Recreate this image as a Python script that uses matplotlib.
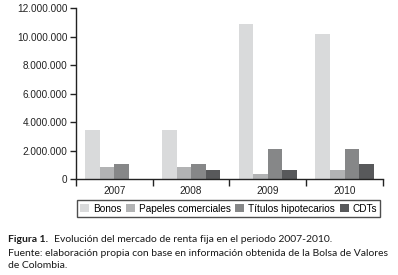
import matplotlib
matplotlib.use("Agg")
import matplotlib.pyplot as plt
import numpy as np
from matplotlib.ticker import FuncFormatter

years = ["2007", "2008", "2009", "2010"]
series = ["Bonos", "Papeles comerciales", "Títulos hipotecarios", "CDTs"]
bonos = [3430000, 3430000, 10900000, 10190000]
papeles = [850000, 850000, 350000, 610000]
titulos = [1060000, 1060000, 2110000, 2110000]
cdts = [0, 610000, 610000, 1060000]
colors = ["#d9dadb", "#b2b3b4", "#868788", "#58595b"]

plt.rcParams['font.family'] = ['Liberation Sans', 'DejaVu Sans']
fig = plt.figure(figsize=(3.98, 2.75), dpi=100)
ax = fig.add_axes([0.191, 0.349, 0.771, 0.621])

x = np.arange(len(years))
w = 0.19
data = [bonos, papeles, titulos, cdts]
for i, (vals, name, c) in enumerate(zip(data, series, colors)):
    ax.bar(x + (i - 1.5) * w, vals, width=w, color=c, label=name, linewidth=0)

ax.set_xlim(-0.5, 3.5)
ax.set_ylim(0, 12000000)
ax.set_yticks(np.arange(0, 12000001, 2000000))
ax.yaxis.set_major_formatter(FuncFormatter(lambda v, p: f"{int(v):,}".replace(",", ".")))
ax.set_xticks(np.arange(-0.5, 3.6, 1))
ax.set_xticklabels([])
ax.set_xticks(x, minor=True)
ax.set_xticklabels(years, minor=True)
ax.tick_params(axis='x', which='minor', length=0, pad=5, labelsize=7.2, colors='#222222')
ax.tick_params(axis='x', which='major', length=5, width=1, direction='out', colors='#222222')
ax.tick_params(axis='y', length=4, width=1, labelsize=7.2, colors='#222222', pad=2)
for s in ['top', 'right']:
    ax.spines[s].set_visible(False)
for s in ['left', 'bottom']:
    ax.spines[s].set_linewidth(1)
    ax.spines[s].set_color('#222222')

leg = fig.legend(loc='center', bbox_to_anchor=(0.574, 0.241), ncol=4, frameon=True,
                 fontsize=7.2, handlelength=0.9, handleheight=0.9, handletextpad=0.35,
                 columnspacing=0.5, borderpad=0.35, fancybox=False, borderaxespad=0)
leg.get_frame().set_edgecolor('#222222')
leg.get_frame().set_linewidth(1)

cf = ['Lato', 'DejaVu Sans']
fs = 7.6
kw = dict(family=cf, va='center', ha='left', color='#1a1a1a')
fig_t = fig.text(8/398, 1-239/275, "Figura 1.", fontsize=fs, fontweight='bold', **kw)
evo = fig.text(57/398, 1-239/275, "Evolución del mercado de renta fija en el periodo 2007-2010.", fontsize=fs, **kw)
line2 = fig.text(8/398, 1-253/275, "Fuente: elaboración propia con base en información obtenida de la Bolsa de Valores", fontsize=fs, **kw)
line3 = fig.text(8/398, 1-266/275, "de Colombia.", fontsize=fs, **kw)
texts = [fig_t, evo, line2, line3]

r = fig.canvas.get_renderer()
for _ in range(3):
    wpx = line2.get_window_extent(r).width
    fs = fs * 383.0 / wpx
    for t in texts:
        t.set_fontsize(fs)
x1 = fig_t.get_window_extent(r).x1
evo.set_x((x1 + 6) / (3.98 * 100))

fig.savefig("out.png", dpi=100)
